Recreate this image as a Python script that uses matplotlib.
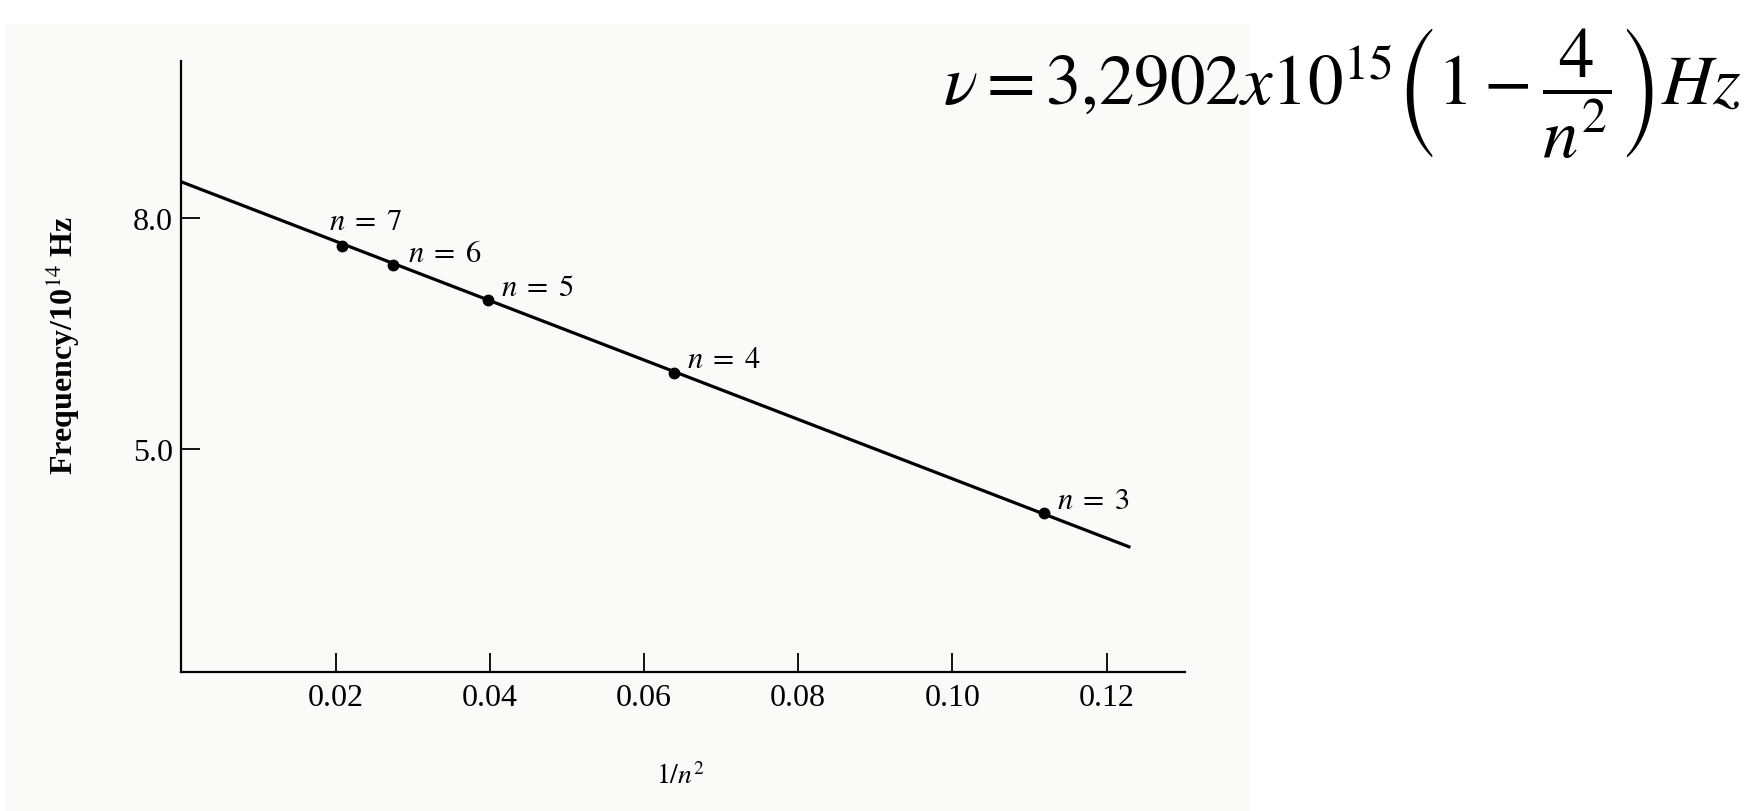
import matplotlib
matplotlib.use("Agg")
import matplotlib.pyplot as plt
from matplotlib.patches import Rectangle

plt.rcParams['font.family'] = 'Liberation Serif'
plt.rcParams['mathtext.fontset'] = 'stix'

# Balmer lines: frequency against 1/n^2
n_levels = [7, 6, 5, 4, 3]
inv_n2 = [0.0208, 0.0274, 0.0398, 0.0639, 0.1119]
freq = [7.64, 7.39, 6.93, 5.99, 4.16]

# straight-line fit drawn through the points
fit_x = [0.0, 0.1231]
fit_y = [8.47, 3.72]

xticks = [0.02, 0.04, 0.06, 0.08, 0.10, 0.12]
xtick_labels = ['0.02', '0.04', '0.06', '0.08', '0.10', '0.12']
yticks = [5.0, 8.0]
ytick_labels = ['5.0', '8.0']

# offsets (points) of each "n = k" label from its dot
label_offsets = [(-9, 12), (11, 3), (9, 4), (9, 4), (9, 4)]

fig = plt.figure(figsize=(17.61, 8.12), dpi=100)
fig.patch.set_facecolor('white')
# printed page behind the graph
fig.patches.append(Rectangle((0.003, 0.0), 0.707, 0.969, transform=fig.transFigure,
                             facecolor='#fafaf9', edgecolor='none', zorder=-10))

ax = fig.add_axes([0.103, 0.1712, 0.570, 0.7524])
ax.set_facecolor('none')
ax.set_xlim(0, 0.1302)
ax.set_ylim(2.10, 10.04)

ax.plot(fit_x, fit_y, color='black', lw=2.3, solid_capstyle='butt')
ax.plot(inv_n2, freq, 'o', color='black', ms=7.5)

for n, x, y, off in zip(n_levels, inv_n2, freq, label_offsets):
    ax.annotate(r'$n\;=\;%d$' % n, (x, y), xytext=off, textcoords='offset points',
                ha='left', va='baseline', fontsize=22)

for side in ['top', 'right']:
    ax.spines[side].set_visible(False)
for side in ['left', 'bottom']:
    ax.spines[side].set_linewidth(1.6)

ax.set_xticks(xticks)
ax.set_xticklabels(xtick_labels)
ax.set_yticks(yticks)
ax.set_yticklabels(ytick_labels)
ax.tick_params(direction='in', length=14, width=1.3, labelsize=23)
ax.tick_params(axis='x', pad=8)
ax.tick_params(axis='y', pad=6)

fig.text(0.0355, 0.575, r'Frequency/10$^{14}$ Hz', rotation=90, ha='center', va='center',
         fontsize=23, fontweight='bold')
fig.text(0.386, 0.044, r'$1/n^2$', ha='center', va='center', fontsize=20)

fig.text(0.9886, 0.884, r'$\nu = 3{,}2902x10^{15}\left(1-\dfrac{4}{n^2}\right)Hz$',
         ha='right', va='center', fontsize=51)

fig.savefig('out.png', dpi=100)
